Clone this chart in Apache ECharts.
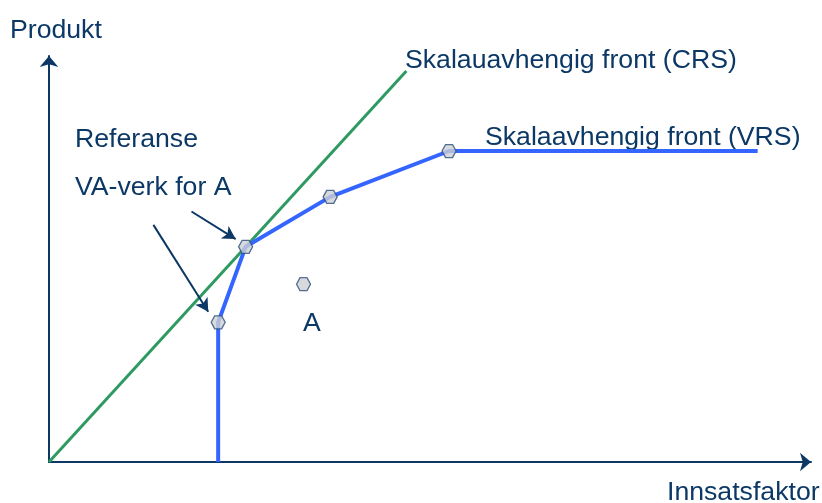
<!DOCTYPE html>
<html>
<head>
<meta charset="utf-8">
<script src="https://cdn.jsdelivr.net/npm/echarts@6/dist/echarts.min.js"></script>
<style>
  html, body { margin: 0; padding: 0; background: #fff; }
  #main { width: 822px; height: 503px; }
</style>
</head>
<body>
<div id="main"></div>
<script>
// front points (input, output) in arbitrary units
const crsLine = [[0, 0], [46.9, 96.3]];
const vrsLine = [[22.2, 0], [22.2, 34.4], [25.8, 53.0], [36.9, 65.3], [52.5, 76.6], [93.0, 76.6]];
const units = [[22.2, 34.4], [25.8, 53.0], [36.9, 65.3], [52.5, 76.6], [33.4, 43.8]];
// annotation arrows: [from, to]
const arrows = [
  [[18.7, 61.7], [24.5, 54.9]],
  [[13.7, 58.4], [20.9, 37.0]]
];

const navy = '#0c3866';
const hexagon = 'path://M0,5 L3,0 L9,0 L12,5 L9,10 L3,10 Z';

function label(text, x, y) {
  return {
    type: 'text', x: x, y: y, scaleX: 1.025,
    style: { text: text, fill: navy, fontSize: 26, fontFamily: 'Liberation Sans, Arial, sans-serif' }
  };
}

const chart = echarts.init(document.getElementById('main'));
chart.setOption({
  animation: false,
  grid: { left: 49, right: 11, top: 56, bottom: 41 },
  xAxis: {
    type: 'value', min: 0, max: 100,
    axisLine: { lineStyle: { color: navy, width: 2 }, symbol: ['none', 'arrow'], symbolSize: [14, 11] },
    axisTick: { show: false }, axisLabel: { show: false }, splitLine: { show: false }
  },
  yAxis: {
    type: 'value', min: 0, max: 100,
    axisLine: { lineStyle: { color: navy, width: 2 }, symbol: ['none', 'arrow'], symbolSize: [14, 11] },
    axisTick: { show: false }, axisLabel: { show: false }, splitLine: { show: false }
  },
  graphic: [
    label('Produkt', 10, 18),
    label('Innsatsfaktor', 667, 480),
    label('Skalauavhengig front (CRS)', 405, 48),
    label('Skalaavhengig front (VRS)', 485, 125),
    label('Referanse', 75, 127),
    label('VA-verk for A', 75, 175),
    label('A', 303, 311)
  ],
  series: [
    {
      type: 'line', data: crsLine, symbol: 'none',
      lineStyle: { color: '#2e9a62', width: 3 }, z: 2
    },
    {
      type: 'line', data: vrsLine, symbol: 'none',
      lineStyle: { color: '#3565ff', width: 4 }, z: 3,
      markLine: {
        silent: true, symbol: ['none', 'arrow'], symbolSize: [11, 13],
        label: { show: false },
        lineStyle: { color: navy, width: 2, type: 'solid' },
        data: arrows.map(a => [{ coord: a[0] }, { coord: a[1] }])
      }
    },
    {
      type: 'scatter', data: units, symbol: hexagon, symbolSize: [14, 13],
      itemStyle: { color: '#cdd0d4', borderColor: '#2c4f7c', borderWidth: 1.3 }, z: 4
    }
  ]
});
</script>
</body>
</html>
